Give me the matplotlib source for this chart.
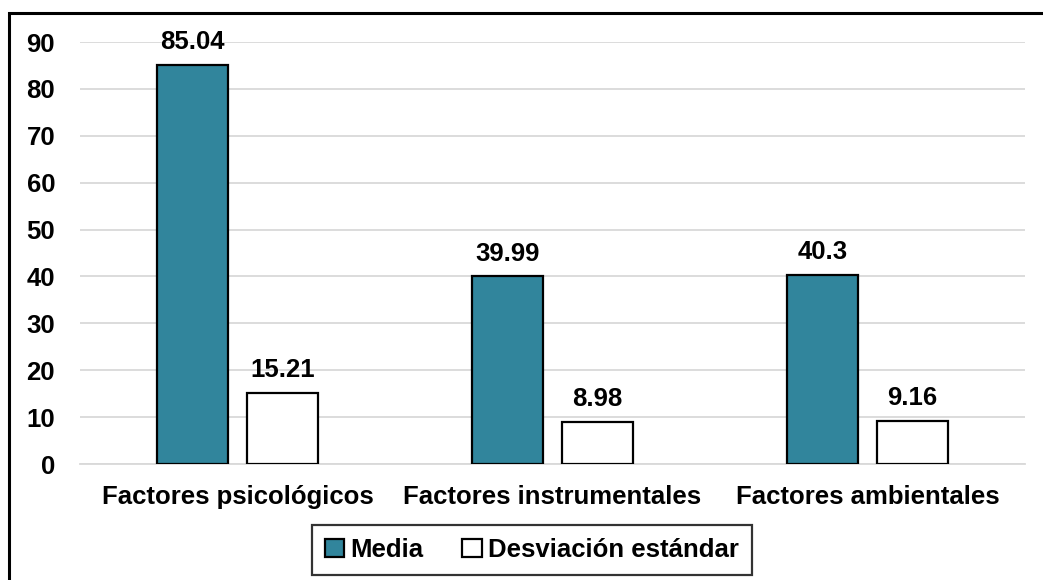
import numpy as np
import matplotlib
matplotlib.use("Agg")
import matplotlib.pyplot as plt
from matplotlib.patches import Rectangle

categories = ["Factores psicológicos", "Factores instrumentales", "Factores ambientales"]
media = [85.04, 39.99, 40.3]
desviacion = [15.21, 8.98, 9.16]
series_names = ["Media", "Desviación estándar"]
yticks = [0, 10, 20, 30, 40, 50, 60, 70, 80, 90]

plt.rcParams['font.family'] = ['Liberation Sans', 'DejaVu Sans']
plt.rcParams['font.weight'] = 'bold'
fs = 18.5

fig = plt.figure(figsize=(10.43, 5.80), dpi=100)
ax = fig.add_axes([80 / 1043, 1 - 464 / 580, 945 / 1043, (464 - 42) / 580])

x = np.arange(len(categories))
w = 0.225
off = 0.143
b1 = ax.bar(x - off, media, w, color='#31859C', edgecolor='black', linewidth=1.6,
            label=series_names[0], zorder=3)
b2 = ax.bar(x + off, desviacion, w, color='white', edgecolor='black', linewidth=1.6,
            label=series_names[1], zorder=3)

for bars, vals in [(b1, media), (b2, desviacion)]:
    for r, v in zip(bars, vals):
        ax.text(r.get_x() + r.get_width() / 2, v + 2.3, f"{v:g}", ha='center', va='bottom',
                fontsize=fs, fontweight='bold')

ax.set_xlim(-0.5, 2.5)
ax.set_ylim(0, 90)
ax.set_yticks(yticks)
ax.set_xticks(x)
ax.set_xticklabels(categories, fontsize=fs, fontweight='bold')
ax.tick_params(axis='y', labelsize=fs, length=0, pad=18)
ax.tick_params(axis='x', length=0, pad=15)
for lbl in ax.get_yticklabels():
    lbl.set_fontweight('bold')
ax.grid(axis='y', color='#d9d9d9', linewidth=1.3, zorder=0)
for s in ['top', 'right', 'left']:
    ax.spines[s].set_visible(False)
ax.spines['bottom'].set_color('#d9d9d9')
ax.spines['bottom'].set_linewidth(1.3)

leg = fig.legend(loc='center', bbox_to_anchor=(532 / 1043, 1 - 550 / 580), ncol=2,
                 prop={'size': fs, 'weight': 'bold'}, frameon=True, fancybox=False,
                 edgecolor='black', handlelength=0.75, handleheight=0.75,
                 handletextpad=0.25, columnspacing=1.5, borderpad=0.5,
                 borderaxespad=0)
leg.get_frame().set_linewidth(1.6)

# outer border (only left and top visible, the rest is cut off)
fig.patches.append(Rectangle((9 / 1043, -0.05), 1.1, 1 - 13 / 580 + 0.05,
                             transform=fig.transFigure, fill=False,
                             edgecolor='black', linewidth=2.2, clip_on=False))

fig.savefig("out.png", dpi=100, facecolor='white')
